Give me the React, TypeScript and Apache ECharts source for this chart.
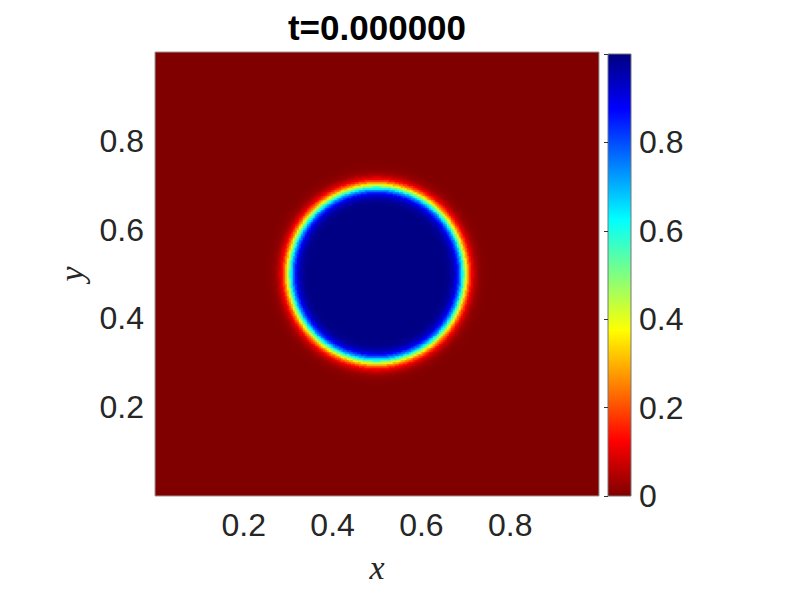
import React, { useEffect, useRef } from "react";
import * as echarts from "echarts";

// Phase-field snapshot: radial profile of the field
const TITLE = "t=0.000000";
const GRID_N = 222; // cells per side of the image
const CENTER_X = 0.5;
const CENTER_Y = 0.5;
const profileRadius = [
  0.15, 0.1525, 0.155, 0.1575, 0.16, 0.1625, 0.165, 0.1675, 0.17, 0.1725,
  0.175, 0.1775, 0.18, 0.1825, 0.185, 0.1875, 0.19, 0.1925, 0.195, 0.1975,
  0.2, 0.2025, 0.205, 0.2075, 0.21, 0.2125, 0.215, 0.2175, 0.22, 0.2225,
  0.225, 0.2275, 0.23, 0.2325, 0.235, 0.2375, 0.24, 0.2425, 0.245, 0.2475,
  0.25, 0.2525,
];
const profileValue = [
  0.996, 0.995, 0.993, 0.991, 0.988, 0.984, 0.978, 0.971, 0.962, 0.949,
  0.933, 0.912, 0.887, 0.853, 0.813, 0.764, 0.707, 0.643, 0.573, 0.5,
  0.427, 0.357, 0.293, 0.236, 0.187, 0.147, 0.113, 0.088, 0.067, 0.051,
  0.038, 0.029, 0.022, 0.016, 0.012, 0.009, 0.007, 0.005, 0.004, 0.003,
  0.002, 0.0,
];
const axisTicks = [0.2, 0.4, 0.6, 0.8];
const colorbarTicks = [0, 0.2, 0.4, 0.6, 0.8];
const colormap = [
  "#800000", "#ff0000", "#ff8000", "#ffff00", "#80ff80",
  "#00ffff", "#0080ff", "#0000ff", "#000080",
];

function valueAtRadius(r: number): number {
  const n = profileRadius.length;
  if (r <= profileRadius[0]) return profileValue[0];
  if (r >= profileRadius[n - 1]) return profileValue[n - 1];
  let best = 0;
  let bestD = Infinity;
  for (let k = 0; k < n; k++) {
    const d = Math.abs(profileRadius[k] - r);
    if (d < bestD) {
      bestD = d;
      best = k;
    }
  }
  return profileValue[best];
}

export default function App() {
  const ref = useRef<HTMLDivElement>(null);
  useEffect(() => {
    if (!ref.current) return;
    const chart = echarts.init(ref.current, null, { renderer: "svg" });
    const cats = Array.from({ length: GRID_N }, (_, i) => String(i));
    const data: number[][] = [];
    for (let i = 0; i < GRID_N; i++) {
      for (let j = 0; j < GRID_N; j++) {
        const x = (i + 0.5) / GRID_N;
        const y = (j + 0.5) / GRID_N;
        const r = Math.hypot(x - CENTER_X, y - CENTER_Y);
        const v = valueAtRadius(r);
        if (v > 0) data.push([i, j, v]);
      }
    }
    const gradient = new echarts.graphic.LinearGradient(
      0,
      1,
      0,
      0,
      colormap.map((c, k) => ({ offset: k / (colormap.length - 1), color: c }))
    );
    const labelStyle = {
      fontSize: 32,
      color: "#262626",
      fontFamily: "Liberation Sans, Arial, sans-serif",
    };
    const nameStyle = {
      fontSize: 34,
      fontStyle: "italic" as const,
      fontFamily: "Liberation Serif, Times New Roman, serif",
      color: "#262626",
    };
    chart.setOption({
      animation: false,
      backgroundColor: "#ffffff",
      grid: [
        {
          left: 155,
          top: 52,
          width: 444,
          height: 444,
          show: true,
          backgroundColor: colormap[0],
          borderColor: "#999999",
          borderWidth: 1,
        },
        {
          left: 608,
          top: 54,
          width: 23,
          height: 442,
          show: true,
          backgroundColor: gradient,
          borderColor: "#777777",
          borderWidth: 1,
        },
      ],
      xAxis: [
        {
          type: "category",
          gridIndex: 0,
          data: cats,
          position: "top",
          show: false,
          boundaryGap: true,
        },
        {
          type: "value",
          gridIndex: 0,
          min: 0,
          max: 1,
          interval: 0.2,
          position: "bottom",
          axisLine: { show: false },
          axisTick: { show: false },
          splitLine: { show: false },
          axisLabel: {
            ...labelStyle,
            margin: 13,
            formatter: (v: number) =>
              axisTicks.some((t) => Math.abs(t - v) < 1e-6) ? v.toFixed(1) : "",
          },
          name: "x",
          nameLocation: "middle",
          nameGap: 54,
          nameTextStyle: nameStyle,
        },
        {
          type: "value",
          gridIndex: 1,
          min: 0,
          max: 1,
          show: false,
        },
      ],
      yAxis: [
        {
          type: "category",
          gridIndex: 0,
          data: cats,
          position: "right",
          show: false,
          boundaryGap: true,
        },
        {
          type: "value",
          gridIndex: 0,
          min: 0,
          max: 1,
          interval: 0.2,
          position: "left",
          axisLine: { show: false },
          axisTick: { show: false },
          splitLine: { show: false },
          axisLabel: {
            ...labelStyle,
            margin: 11,
            formatter: (v: number) =>
              axisTicks.some((t) => Math.abs(t - v) < 1e-6) ? v.toFixed(1) : "",
          },
          name: "y",
          nameLocation: "middle",
          nameGap: 64,
          nameTextStyle: nameStyle,
        },
        {
          type: "value",
          gridIndex: 1,
          min: 0,
          max: 1,
          interval: 0.2,
          position: "right",
          axisLine: { show: false },
          axisTick: {
            show: true,
            inside: true,
            length: 4,
            lineStyle: { color: "#333333", width: 1 },
          },
          splitLine: { show: false },
          axisLabel: {
            ...labelStyle,
            margin: 8,
            formatter: (v: number) =>
              colorbarTicks.some((t) => Math.abs(t - v) < 1e-6)
                ? v === 0
                  ? "0"
                  : v.toFixed(1)
                : "",
          },
        },
      ],
      visualMap: {
        type: "continuous",
        min: 0,
        max: 1,
        seriesIndex: 0,
        dimension: 2,
        show: false,
        inRange: { color: colormap },
      },
      graphic: [
        {
          type: "text",
          x: 377,
          y: 27,
          style: {
            text: TITLE,
            align: "center",
            verticalAlign: "middle",
            fontSize: 35,
            fontWeight: "bold",
            fontFamily: "Liberation Sans, Arial, sans-serif",
            fill: "#000000",
          },
        },
      ],
      series: [
        {
          type: "heatmap",
          xAxisIndex: 0,
          yAxisIndex: 0,
          data,
          progressive: 0,
          silent: true,
          emphasis: { disabled: true },
          itemStyle: { borderWidth: 0 },
        },
      ],
    });
    return () => chart.dispose();
  }, []);
  return (
    <div
      ref={ref}
      style={{ position: "fixed", left: 0, top: 0, width: 789, height: 592 }}
    />
  );
}
